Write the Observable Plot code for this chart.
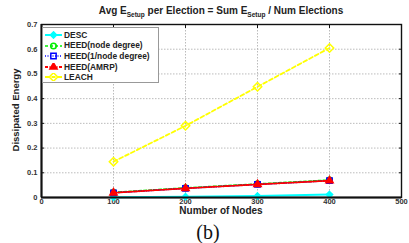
<!DOCTYPE html>
<html><head><meta charset="utf-8">
<script src="https://cdn.jsdelivr.net/npm/d3@7"></script>
<script src="https://cdn.jsdelivr.net/npm/@observablehq/plot@0.6"></script>
<style>
body{margin:0;background:#fff;}
#wrap{position:relative;width:409px;height:243px;overflow:hidden;font-family:"Liberation Sans",Arial,sans-serif;}
#wrap > svg{position:absolute;left:0;top:0;}
.t{position:absolute;font-weight:bold;color:#222;white-space:nowrap;line-height:1;}
#title{left:221px;top:6px;transform:translateX(-50%);font-size:10px;}
#title sub{font-size:6.5px;vertical-align:-2.5px;line-height:0;}
#xlab{left:221px;top:205.5px;transform:translateX(-50%);font-size:10px;}
#ylab{left:16px;top:110px;transform:translate(-50%,-50%) rotate(-90deg);font-size:9.5px;}
#cap{position:absolute;left:208px;top:232px;transform:translate(-50%,-50%);font-family:"Liberation Serif","Times New Roman",serif;font-size:20px;line-height:1;color:#111;}
#legend{position:absolute;left:42px;top:27px;width:117px;height:56px;border:1px solid #999;background:#fff;box-sizing:border-box;}
#legend .row{position:absolute;left:2px;height:10px;display:flex;align-items:center;font-size:8.4px;font-weight:bold;color:#222;line-height:1;white-space:nowrap;}
#legend .row svg{margin-right:2px;flex:none;}
</style>
</head><body>
<div id="wrap"></div>
<script>
const nodes = [100, 200, 300, 400];
const seriesNames = ["DESC", "HEED(node degree)", "HEED(1/node degree)", "HEED(AMRP)", "LEACH"];
const desc = [0.001, 0.003, 0.006, 0.012];
const heedNodeDegree = [0.021, 0.039, 0.055, 0.071];
const heedInvNodeDegree = [0.019, 0.037, 0.053, 0.068];
const heedAmrp = [0.019, 0.037, 0.053, 0.068];
const leach = [0.145, 0.29, 0.448, 0.605];
const xTicks = [0, 100, 200, 300, 400, 500];
const yTicks = [0, 0.1, 0.2, 0.3, 0.4, 0.5, 0.6, 0.7];

const styles = {
  "DESC": {color: "#00ffff", dash: null, width: 2, symbol: "diamond2", fill: "#00ffff", r: 2.8},
  "HEED(node degree)": {color: "#00ee00", dash: "3,2", width: 1.5, symbol: "circle", fill: "none", r: 2.8},
  "HEED(1/node degree)": {color: "#0000ff", dash: "1,1.5", width: 1.5, symbol: "square", fill: "none", r: 3},
  "HEED(AMRP)": {color: "#ff0000", dash: "3,1.5,1,1.5", width: 1.8, symbol: "triangle", fill: "#ff0000", r: 2.7},
  "LEACH": {color: "#ffff00", dash: "4,2.5", width: 1.8, symbol: "diamond2", fill: "none", r: 3.8}
};
const values = {
  "DESC": desc,
  "HEED(node degree)": heedNodeDegree,
  "HEED(1/node degree)": heedInvNodeDegree,
  "HEED(AMRP)": heedAmrp,
  "LEACH": leach
};
const drawOrder = ["LEACH", "DESC", "HEED(node degree)", "HEED(1/node degree)", "HEED(AMRP)"];

const seriesMarks = drawOrder.flatMap(name => {
  const s = styles[name];
  const data = nodes.map((n, i) => ({x: n, y: values[name][i]}));
  return [
    Plot.line(data, {x: "x", y: "y", stroke: s.color, strokeWidth: s.width, strokeDasharray: s.dash}),
    Plot.dot(data, {x: "x", y: "y", symbol: s.symbol, r: s.r, stroke: s.color, strokeWidth: 1.5, fill: s.fill})
  ];
});

const tickFont = {fontSize: 7.5, fontWeight: "bold", fill: "#333"};

const chart = Plot.plot({
  width: 409, height: 243,
  marginTop: 24, marginBottom: 46, marginLeft: 41, marginRight: 8,
  style: {fontFamily: "Liberation Sans, Arial, sans-serif", background: "white", overflow: "visible"},
  x: {domain: [0, 500], label: null},
  y: {domain: [0, 0.7], label: null},
  marks: [
    Plot.gridX(xTicks.slice(1, -1), {stroke: "#aaa", strokeOpacity: 1, strokeDasharray: "1.5,1.5", strokeWidth: 0.8}),
    Plot.gridY(yTicks.slice(1, -1), {stroke: "#aaa", strokeOpacity: 1, strokeDasharray: "1.5,1.5", strokeWidth: 0.8}),
    Plot.frame({stroke: "#111", strokeWidth: 1.4}),
    Plot.axisX(xTicks, {anchor: "bottom", tickSize: 0, tickPadding: 1, ...tickFont}),
    Plot.axisY(yTicks, {anchor: "left", tickSize: 0, tickPadding: 4, tickFormat: d => d === 0 ? "0" : d3.format(".1f")(d), ...tickFont}),
    Plot.axisX(xTicks.slice(1, -1), {anchor: "bottom", tickSize: -3, tickFormat: () => "", stroke: "#111"}),
    Plot.axisX(xTicks.slice(1, -1), {anchor: "top", tickSize: -3, tickFormat: () => "", stroke: "#111"}),
    Plot.axisY(yTicks.slice(1, -1), {anchor: "left", tickSize: -3, tickFormat: () => "", stroke: "#111"}),
    Plot.axisY(yTicks.slice(1, -1), {anchor: "right", tickSize: -3, tickFormat: () => "", stroke: "#111"}),
    ...seriesMarks,
    Plot.ruleX([0], {stroke: "#111", strokeWidth: 2}),
    Plot.ruleY([0], {stroke: "#111", strokeWidth: 2})
  ]
});
const wrap = document.getElementById("wrap");
wrap.appendChild(chart);

function addDiv(id, html) {
  const d = document.createElement("div");
  d.id = id; d.className = "t"; d.innerHTML = html;
  wrap.appendChild(d);
  return d;
}
addDiv("title", "Avg E<sub>Setup</sub> per Election = Sum E<sub>Setup</sub> / Num Elections");
addDiv("xlab", "Number of Nodes");
addDiv("ylab", "Dissipated Energy");
const cap = document.createElement("div");
cap.id = "cap"; cap.textContent = "(b)";
wrap.appendChild(cap);

// legend
const legend = document.createElement("div");
legend.id = "legend";
const symPaths = {
  circle: d3.symbol(d3.symbolCircle),
  square: d3.symbol(d3.symbolSquare),
  triangle: d3.symbol(d3.symbolTriangle),
  diamond2: d3.symbol(d3.symbolDiamond2)
};
seriesNames.forEach((name, i) => {
  const s = styles[name];
  const row = document.createElement("div");
  row.className = "row";
  row.style.top = (2 + i * 10.6) + "px";
  const ns = "http://www.w3.org/2000/svg";
  const svg = document.createElementNS(ns, "svg");
  svg.setAttribute("width", 17); svg.setAttribute("height", 8);
  const ln = document.createElementNS(ns, "line");
  ln.setAttribute("x1", 0); ln.setAttribute("x2", 17); ln.setAttribute("y1", 4); ln.setAttribute("y2", 4);
  ln.setAttribute("stroke", s.color); ln.setAttribute("stroke-width", s.width);
  if (s.dash) ln.setAttribute("stroke-dasharray", s.dash);
  svg.appendChild(ln);
  const p = document.createElementNS(ns, "path");
  const size = Math.PI * s.r * s.r;
  p.setAttribute("d", symPaths[s.symbol].size(size)());
  p.setAttribute("transform", "translate(8.5,4)");
  p.setAttribute("stroke", s.color); p.setAttribute("stroke-width", 1.5);
  p.setAttribute("fill", s.fill);
  svg.appendChild(p);
  row.appendChild(svg);
  const span = document.createElement("span");
  span.textContent = name;
  row.appendChild(span);
  legend.appendChild(row);
});
wrap.appendChild(legend);
</script>
</body></html>
